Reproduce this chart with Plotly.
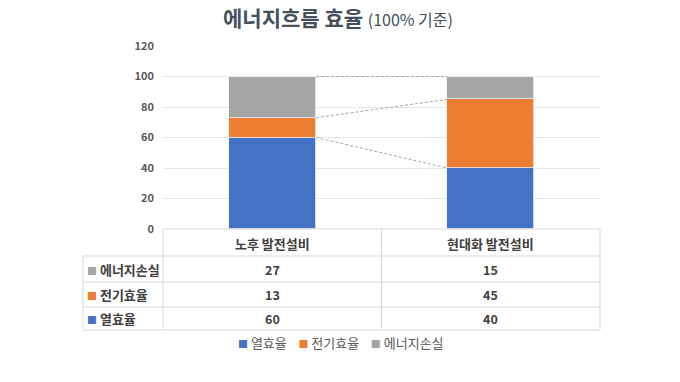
import plotly.graph_objects as go

categories = ["노후 발전설비", "현대화 발전설비"]
series_names = ["열효율", "전기효율", "에너지손실"]
heat_eff = [60, 40]
elec_eff = [13, 45]
energy_loss = [27, 15]
y_ticks = [0, 20, 40, 60, 80, 100, 120]

colors = ["#4472C4", "#ED7D31", "#A5A5A5"]
series_vals = [heat_eff, elec_eff, energy_loss]

FONT = "Noto Sans CJK KR"
W, H = 680, 382
L, R, T, B = 163, 80, 46, 153
PW, PH = W - L - R, H - T - B

def px(xp):
    return (xp - L) / PW

def py(yp):
    return (H - B - yp) / PH

xs = list(range(len(categories)))
bar_w = 0.4

fig = go.Figure()
for name, vals, col in zip(series_names, series_vals, colors):
    fig.add_trace(go.Bar(x=xs, y=vals, name=name, width=bar_w, showlegend=False,
                         marker=dict(color=col, line=dict(width=0.8, color="#eef2f8"))))

# series connector lines
cum = [0, 0]
levels = []
for vals in series_vals:
    cum = [c + v for c, v in zip(cum, vals)]
    levels.append(list(cum))
for lv in levels:
    fig.add_trace(go.Scatter(x=[xs[0] + bar_w / 2, xs[1] - bar_w / 2], y=lv,
                             mode="lines", showlegend=False, hoverinfo="skip",
                             line=dict(color="#a6a6a6", width=1, dash="3px,2px")))

shapes = []
line_col = "#d9d9d9"
def hline(y, x0, x1):
    shapes.append(dict(type="line", xref="paper", yref="paper", x0=px(x0), x1=px(x1),
                       y0=py(y), y1=py(y), line=dict(color=line_col, width=1)))
def vline(x, y0, y1):
    shapes.append(dict(type="line", xref="paper", yref="paper", x0=px(x), x1=px(x),
                       y0=py(y0), y1=py(y1), line=dict(color=line_col, width=1)))

rows_y = [229, 256, 282, 307, 330]
hline(229, 163, 600)
for y in rows_y[1:]:
    hline(y, 83, 600)
vline(83, 256, 330)
vline(163, 229, 330)
vline(381.5, 229, 330)
vline(600, 229, 330)

annotations = []
col_centers = [272, 490.5]
txt_col = "#404040"
def ann(x, y, text, size=12, color=txt_col, xanchor="center"):
    annotations.append(dict(x=px(x), y=py(y), xref="paper", yref="paper", text=text,
                            xanchor=xanchor, yanchor="middle", showarrow=False,
                            font=dict(family=FONT, size=size, color=color)))

for c, cat in zip(col_centers, categories):
    ann(c, (229 + 256) / 2 + 1, "<b>" + cat + "</b>", size=13)
table_rows = [("에너지손실", energy_loss, colors[2]),
              ("전기효율", elec_eff, colors[1]),
              ("열효율", heat_eff, colors[0])]
for i, (lab, vals, col) in enumerate(table_rows):
    yc = (rows_y[i + 1] + rows_y[i + 2]) / 2
    ann(85, yc, "<span style='color:%s;font-size:10px'>■</span> <b>%s</b>" % (col, lab),
        size=13, xanchor="left")
    for c, v in zip(col_centers, vals):
        ann(c, yc, "<b>%d</b>" % v, size=12.5)

# manual legend
legend_txt = "    ".join("<span style='color:%s;font-size:10px'>■</span> %s" % (c, n)
                         for n, c in zip(series_names, colors))
ann(341, 342, legend_txt, size=13, color="#595959")

fig.update_layout(
    width=W, height=H,
    margin=dict(l=L, r=R, t=T, b=B, autoexpand=False),
    paper_bgcolor="white", plot_bgcolor="white",
    barmode="stack", bargap=0, showlegend=False,
    font=dict(family=FONT, size=12, color="#595959"),
    title=dict(text="<b>에너지흐름 효율</b> <span style='font-size:16px;font-weight:normal'>(100% 기준)</span>",
               xref="container", x=338 / W, xanchor="center", yref="container",
               y=1 - 19 / H, yanchor="middle",
               font=dict(family=FONT, size=21, color="#44505c")),
    xaxis=dict(range=[-0.5, 1.5], showticklabels=False, showgrid=False, zeroline=False,
               ticks="", fixedrange=True),
    yaxis=dict(range=[0, 120], tickvals=y_ticks, ticktext=["<b>%d</b>" % t for t in y_ticks],
               showgrid=True, gridcolor="#e6e6e6", zeroline=False, ticks="",
               ticklabelstandoff=8, fixedrange=True,
               tickfont=dict(family=FONT, size=11, color="#595959")),
    shapes=shapes, annotations=annotations,
)

fig.write_html("out.html", config={"displayModeBar": False},
               post_script="document.body.style.margin='0';")
